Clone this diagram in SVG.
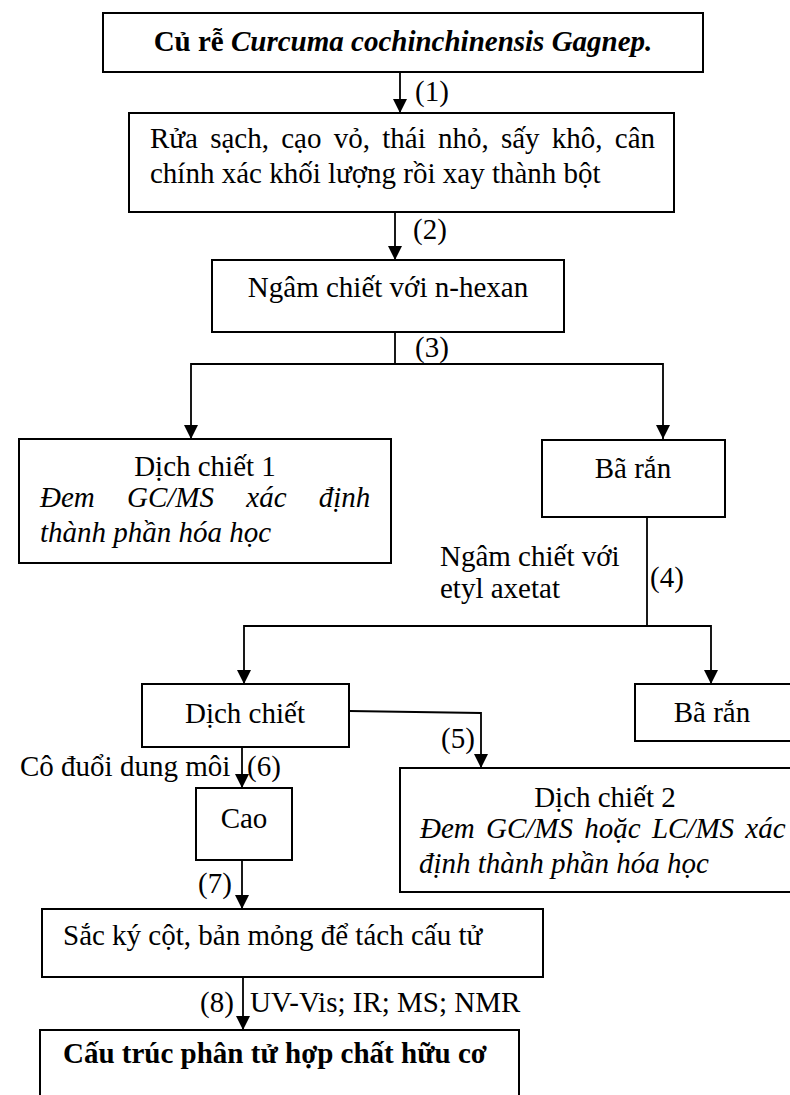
<svg xmlns="http://www.w3.org/2000/svg" width="790" height="1095" viewBox="0 0 790 1095">
<style>
.box{fill:#fff;stroke:#000;stroke-width:2}
.t{font-family:"Liberation Serif","Times New Roman",serif;font-size:29px;fill:#000}
.c{text-anchor:middle}
.i{font-style:italic}
.b{font-weight:bold}
.ln{fill:none;stroke:#000;stroke-width:1.8}
</style>
<defs>
<marker id="ah" markerUnits="userSpaceOnUse" markerWidth="14" markerHeight="16" refX="14" refY="7" orient="auto" viewBox="0 0 14 14">
<path d="M0,0 L14,7 L0,14 Z" fill="#000"/>
</marker>
</defs>
<rect width="790" height="1095" fill="#fff"/>
<g id="connectors">
<line class="ln" x1="400" y1="72" x2="400" y2="113" marker-end="url(#ah)"/>
<line class="ln" x1="395" y1="212" x2="395" y2="260" marker-end="url(#ah)"/>
<polyline class="ln" points="395,332 395,364"/>
<polyline class="ln" points="395,364 191,364 191,439" marker-end="url(#ah)"/>
<polyline class="ln" points="395,364 663,364 663,439" marker-end="url(#ah)"/>
<polyline class="ln" points="647,517 647,626"/>
<polyline class="ln" points="647,626 244,626 244,684" marker-end="url(#ah)"/>
<polyline class="ln" points="647,626 711,626 711,684" marker-end="url(#ah)"/>
<polyline class="ln" points="349,711 481,713 481,768" marker-end="url(#ah)"/>
<line class="ln" x1="242" y1="747" x2="242" y2="788" marker-end="url(#ah)"/>
<line class="ln" x1="242" y1="860" x2="242" y2="909" marker-end="url(#ah)"/>
<line class="ln" x1="243" y1="977" x2="243" y2="1030" marker-end="url(#ah)"/>
<text class="t" x="415" y="101">(1)</text>
<text class="t" x="413" y="239">(2)</text>
<text class="t" x="415" y="357">(3)</text>
<text class="t" x="440" y="566">Ngâm chiết với</text>
<text class="t" x="440" y="598">etyl axetat</text>
<text class="t" x="650" y="587">(4)</text>
<text class="t" x="441" y="748">(5)</text>
<text class="t" x="20" y="776">Cô đuổi dung môi</text>
<text class="t" x="247" y="776">(6)</text>
<text class="t" x="198" y="893">(7)</text>
<text class="t" x="200" y="1012">(8)</text>
<text class="t" x="250" y="1012">UV-Vis; IR; MS; NMR</text>
</g>
<g id="n1">
<rect class="box" x="103" y="13" width="600" height="59"/>
<text class="t b c" x="403" y="51">Củ rễ <tspan class="i">Curcuma cochinchinensis Gagnep.</tspan></text>
</g>
<g id="n2">
<rect class="box" x="129" y="113" width="545" height="99"/>
<text class="t" x="150" y="148" word-spacing="5">Rửa sạch, cạo vỏ, thái nhỏ, sấy khô, cân</text>
<text class="t" x="150" y="183">chính xác khối lượng rồi xay thành bột</text>
</g>
<g id="n3">
<rect class="box" x="212" y="260" width="352" height="72"/>
<text class="t c" x="388" y="297">Ngâm chiết với n-hexan</text>
</g>
<g id="n4">
<rect class="box" x="19" y="439" width="372" height="124"/>
<text class="t c" x="205" y="476">Dịch chiết 1</text>
<text class="t i" x="40" y="507" word-spacing="25">Đem GC/MS xác định</text>
<text class="t i" x="40" y="542">thành phần hóa học</text>
</g>
<g id="n5">
<rect class="box" x="542" y="440" width="183" height="77"/>
<text class="t c" x="633" y="478">Bã rắn</text>
</g>
<g id="n6">
<rect class="box" x="142" y="684" width="207" height="63"/>
<text class="t c" x="245" y="723">Dịch chiết</text>
</g>
<g id="n7">
<rect class="box" x="635" y="684" width="170" height="57"/>
<text class="t c" x="712" y="722">Bã rắn</text>
</g>
<g id="n8">
<rect class="box" x="400" y="768" width="410" height="124"/>
<text class="t c" x="605" y="807">Dịch chiết 2</text>
<text class="t i" x="420" y="838" word-spacing="4">Đem GC/MS hoặc LC/MS xác</text>
<text class="t i" x="419" y="873">định thành phần hóa học</text>
</g>
<g id="n9">
<rect class="box" x="196" y="788" width="96" height="72"/>
<text class="t c" x="244" y="828">Cao</text>
</g>
<g id="n10">
<rect class="box" x="42" y="909" width="501" height="68"/>
<text class="t" x="63" y="945">Sắc ký cột, bản mỏng để tách cấu tử</text>
</g>
<g id="n11">
<rect class="box" x="40" y="1030" width="479" height="80"/>
<text class="t b" x="63" y="1063">Cấu trúc phân tử hợp chất hữu cơ</text>
</g>
</svg>
